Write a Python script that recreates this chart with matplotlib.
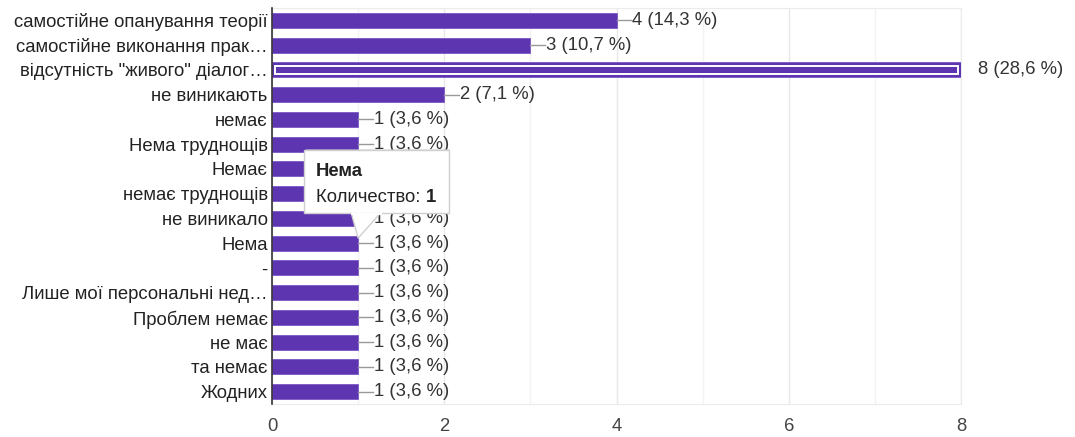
import matplotlib.pyplot as plt
from matplotlib.patches import Polygon, FancyBboxPatch
import numpy as np

plt.rcParams['font.family'] = ['Liberation Sans', 'DejaVu Sans']

categories = [
    'самостійне опанування теорії',
    'самостійне виконання прак…',
    'відсутність "живого" діалог…',
    'не виникають',
    'немає',
    'Нема труднощів',
    'Немає',
    'немає труднощів',
    'не виникало',
    'Нема',
    '-',
    'Лише мої персональні нед…',
    'Проблем немає',
    'не має',
    'та немає',
    'Жодних',
]
counts = [4, 3, 8, 2, 1, 1, 1, 1, 1, 1, 1, 1, 1, 1, 1, 1]
percents = ['14,3', '10,7', '28,6', '7,1', '3,6', '3,6', '3,6', '3,6', '3,6',
            '3,6', '3,6', '3,6', '3,6', '3,6', '3,6', '3,6']
highlight = 2          # bar with focus outline
tip_bar = 9            # bar the tooltip points at
xticks = [0, 2, 4, 6, 8]

purple = '#5e35b1'
fs = 13.3

fig = plt.figure(figsize=(10.75, 4.37), dpi=100)
ax = fig.add_axes([272/1075, 33/437, 689/1075, 396/437])

y = np.arange(len(categories))
ax.barh(y, counts, height=0.6, color=purple, edgecolor='#7b58c6', linewidth=0.6, zorder=3)
# focus outline on the third bar
ax.barh(y[highlight], counts[highlight] - 0.07, left=0.035, height=0.34,
        fill=False, edgecolor='white', linewidth=1.4, zorder=4)

for yi, c, p in zip(y, counts, percents):
    if c == max(counts):
        ax.text(c + 0.2, yi, f'{c} ({p} %)', va='center', ha='left',
                fontsize=fs, color='#333333', zorder=5)
    else:
        ax.plot([c, c + 0.17], [yi, yi], color='#999999', lw=1, zorder=5)
        ax.text(c + 0.18, yi, f'{c} ({p} %)', va='center', ha='left',
                fontsize=fs, color='#333333', zorder=5)

ax.set_xlim(0, 8)
ax.set_ylim(len(categories) - 0.5, -0.5)
ax.set_yticks(y)
ax.set_yticklabels(categories, fontsize=fs, color='#222222')
ax.set_xticks(xticks)
ax.set_xticklabels([str(t) for t in xticks], fontsize=fs, color='#444444')
ax.set_xticks([1, 3, 5, 7], minor=True)
ax.tick_params(axis='both', length=0, pad=3)
ax.tick_params(axis='x', pad=10)
ax.tick_params(axis='x', which='minor', length=0)
ax.grid(axis='x', which='major', color='#e8e8e8', lw=1, zorder=0)
ax.grid(axis='x', which='minor', color='#f3f3f3', lw=1, zorder=0)
for side in ['top', 'right', 'bottom']:
    ax.spines[side].set_color('#ebebeb')
ax.spines['left'].set_color('#333333')
ax.spines['left'].set_linewidth(1.2)
ax.spines['left'].set_zorder(6)

# tooltip
bx0, bx1 = 0.37, 2.05
by0, by1 = 5.24, 7.80
shadow = FancyBboxPatch((bx0 + 0.02, by0 - 0.06), bx1 - bx0, by1 - by0,
                        boxstyle='square,pad=0', facecolor='#cccccc', alpha=0.5,
                        edgecolor='none', zorder=7)
ax.add_patch(shadow)
box = FancyBboxPatch((bx0, by0), bx1 - bx0, by1 - by0, boxstyle='square,pad=0',
                     facecolor='white', edgecolor='#cfcfcf', lw=1, zorder=8)
ax.add_patch(box)
pointer = Polygon([[0.92, by1 - 0.02], [1.26, by1 - 0.02], [1.0, tip_bar - 0.2]],
                  closed=True, facecolor='white', edgecolor='#cfcfcf', lw=1, zorder=8)
ax.add_patch(pointer)
ax.plot([0.93, 1.25], [by1, by1], color='white', lw=2, zorder=9)
ax.text(0.51, 6.1, categories[tip_bar], fontsize=fs, fontweight='bold',
        color='#222222', va='center', ha='left', zorder=10)
t = ax.text(0.51, 7.15, 'Количество: ', fontsize=fs, color='#222222',
            va='center', ha='left', zorder=10)
ax.annotate(str(counts[tip_bar]), xycoords=t, xy=(1, 0.5), va='center', ha='left',
            fontsize=fs, fontweight='bold', color='#222222', zorder=10)

fig.savefig('out.png', dpi=100)
